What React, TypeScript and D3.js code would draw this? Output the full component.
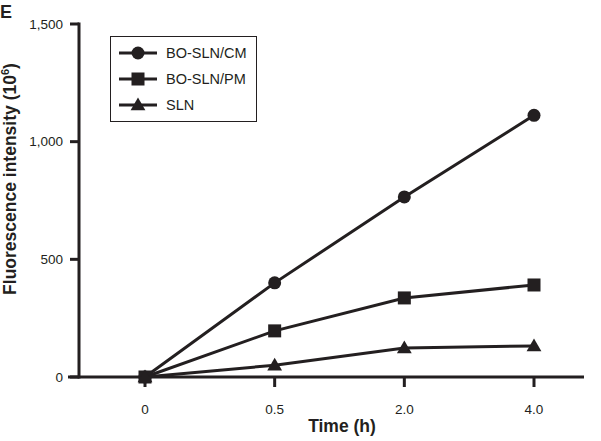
import React from "react";
import * as d3 from "d3";

const categories = ["0", "0.5", "2.0", "4.0"];
const seriesNames = ["BO-SLN/CM", "BO-SLN/PM", "SLN"];
const cmValues = [0, 400, 765, 1112];
const pmValues = [0, 196, 336, 391];
const slnValues = [0, 50, 123, 132];
const yTicks = [0, 500, 1000, 1500];
const markers = ["circle", "square", "triangle"];

const INK = "#231f20";
const FONT = "'Liberation Sans', Arial, sans-serif";

function Marker({ type, x, y }: { type: string; x: number; y: number }) {
  if (type === "circle") return <circle cx={x} cy={y} r={6.5} fill={INK} />;
  if (type === "square") return <rect x={x - 6.5} y={y - 6.5} width={13} height={13} fill={INK} />;
  const s = d3.symbol().type(d3.symbolTriangle).size(95)();
  return <path d={s || ""} transform={`translate(${x},${y + 1})`} fill={INK} />;
}

export default function App() {
  const W = 601, H = 441;
  const x = d3.scalePoint<string>().domain(categories).range([145, 534]);
  const y = d3.scaleLinear().domain([0, 1500]).range([377, 24]);
  const series = [cmValues, pmValues, slnValues];
  const line = d3.line<number>().x((_, i) => x(categories[i])!).y((d) => y(d));
  const fmt = d3.format(",");
  return (
    <svg width={W} height={H} style={{ position: "absolute", left: 0, top: 0 }} fontFamily={FONT}>
      <rect width={W} height={H} fill="#fff" />
      <text x={0} y={18} fontSize={18} fontWeight="bold" fill={INK}>E</text>
      {/* y axis */}
      <line x1={79} x2={79} y1={y(1500) - 1.5} y2={y(0) + 1.5} stroke={INK} strokeWidth={3} />
      {yTicks.map((t) => (
        <g key={t}>
          <line x1={70} x2={79} y1={y(t)} y2={y(t)} stroke={INK} strokeWidth={3} />
          <text x={63} y={y(t)} dy="0.35em" textAnchor="end" fontSize={13.5} fill={INK}>{fmt(t)}</text>
        </g>
      ))}
      {/* x axis */}
      <line x1={68} x2={584} y1={y(0)} y2={y(0)} stroke={INK} strokeWidth={3} />
      {categories.map((c) => (
        <g key={c}>
          <line x1={x(c)} x2={x(c)} y1={y(0)} y2={y(0) + 10} stroke={INK} strokeWidth={3} />
          <text x={x(c)} y={414} textAnchor="middle" fontSize={13.5} fill={INK}>{c}</text>
        </g>
      ))}
      <text x={342} y={432} textAnchor="middle" fontSize={17.5} fontWeight="bold" fill={INK}>Time (h)</text>
      <text transform="translate(16,179) rotate(-90)" textAnchor="middle" fontSize={17.5} fontWeight="bold" fill={INK}>
        Fluorescence intensity (10<tspan dy={-7} fontSize={11}>6</tspan><tspan dy={7}>)</tspan>
      </text>
      {/* series */}
      {series.map((vals, si) => (
        <g key={si}>
          <path d={line(vals) || ""} fill="none" stroke={INK} strokeWidth={3} />
          {vals.map((v, i) => (
            <Marker key={i} type={markers[si]} x={x(categories[i])!} y={y(v)} />
          ))}
        </g>
      ))}
      {/* legend */}
      <rect x={110.5} y={36.5} width={146} height={85} fill="#fff" stroke={INK} strokeWidth={1} />
      {seriesNames.map((n, i) => {
        const ly = 53 + i * 26;
        return (
          <g key={n}>
            <line x1={119} x2={157} y1={ly} y2={ly} stroke={INK} strokeWidth={3} />
            <Marker type={markers[i]} x={138} y={ly} />
            <text x={166} y={ly} dy="0.35em" fontSize={14.5} fill={INK}>{n}</text>
          </g>
        );
      })}
    </svg>
  );
}
